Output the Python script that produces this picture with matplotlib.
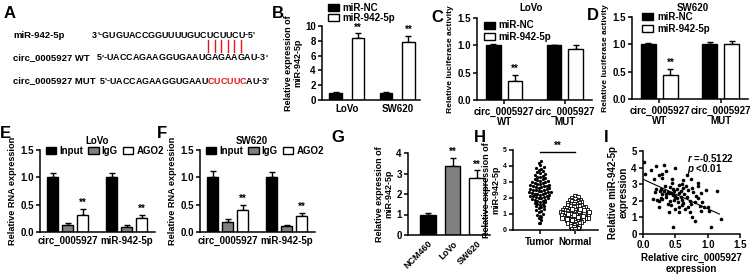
import matplotlib
matplotlib.use('Agg')
import matplotlib.pyplot as plt
import numpy as np
from matplotlib.patches import Patch

plt.rcParams['font.family'] = ['Liberation Sans', 'DejaVu Sans']
plt.rcParams['font.weight'] = 'bold'
plt.rcParams['axes.labelweight'] = 'bold'
plt.rcParams['mathtext.fontset'] = 'custom'
plt.rcParams['mathtext.it'] = 'Liberation Sans:italic:bold'
plt.rcParams['mathtext.rm'] = 'Liberation Sans:bold'

# ---------------- data ----------------
mir_label = "miR-942-5p"
wt_label = "circ_0005927 WT"
mut_label = "circ_0005927 MUT"
mir_seq = ["3'-GUGUACCGGUUUUGU", "CUCUUC", "U-5'"]
wt_seq = ["5'-UACCAGAAGGUGAAU", "GAGAAG", "AU-3'"]
mut_seq = ["5'-UACCAGAAGGUGAAU", "CUCUUC", "AU-3'"]

b_cats = ["LoVo", "SW620"]
b_nc = [1.0, 1.0]
b_nc_err = [0.08, 0.08]
b_mir = [8.4, 7.8]
b_mir_err = [0.6, 0.9]

luc_cats = ["circ_0005927\nWT", "circ_0005927\nMUT"]
c_nc = [1.0, 1.0]
c_nc_err = [0.02, 0.01]
c_mir = [0.35, 0.94]
c_mir_err = [0.1, 0.07]
d_nc = [1.0, 1.0]
d_nc_err = [0.03, 0.05]
d_mir = [0.44, 1.0]
d_mir_err = [0.1, 0.07]

rip_cats = ["circ_0005927", "miR-942-5p"]
e_input = [1.0, 1.0]
e_input_err = [0.08, 0.08]
e_igg = [0.12, 0.09]
e_igg_err = [0.04, 0.03]
e_ago2 = [0.32, 0.25]
e_ago2_err = [0.1, 0.07]
f_input = [1.0, 1.0]
f_input_err = [0.12, 0.1]
f_igg = [0.18, 0.11]
f_igg_err = [0.05, 0.02]
f_ago2 = [0.41, 0.3]
f_ago2_err = [0.08, 0.05]

g_cats = ["NCM460", "LoVo", "SW620"]
g_vals = [1.0, 3.35, 2.8]
g_err = [0.05, 0.4, 0.35]

h_tumor = [4.32, 4.18, 4.08, 3.95, 3.9, 3.82, 3.76, 3.7, 3.62, 3.58, 3.5, 3.46,
           3.4, 3.33, 3.3, 3.24, 3.2, 3.16, 3.12, 3.08, 3.05, 3.02, 3.0, 2.96,
           2.93, 2.9, 2.87, 2.84, 2.8, 2.78, 2.75, 2.72, 2.7, 2.66, 2.64, 2.61,
           2.58, 2.55, 2.52, 2.5, 2.47, 2.45, 2.42, 2.4, 2.37, 2.35, 2.33, 2.3,
           2.28, 2.26, 2.23, 2.2, 2.18, 2.15, 2.12, 2.1, 2.08, 2.05, 2.02, 2.0,
           1.97, 1.94, 1.9, 1.86, 1.83, 1.8, 1.76, 1.72, 1.68, 1.64, 1.6, 1.56,
           1.52, 1.48, 1.42, 1.36, 1.3, 1.25, 1.18, 1.1, 1.02, 0.95, 0.88, 0.82,
           0.74, 0.62, 0.46, 0.42]
h_normal = [2.1, 2.04, 1.98, 1.95, 1.9, 1.86, 1.83, 1.8, 1.77, 1.74, 1.7, 1.68,
            1.65, 1.62, 1.6, 1.57, 1.54, 1.52, 1.5, 1.47, 1.45, 1.43, 1.4, 1.38,
            1.35, 1.33, 1.3, 1.28, 1.26, 1.24, 1.22, 1.2, 1.18, 1.16, 1.14, 1.12,
            1.1, 1.08, 1.06, 1.04, 1.02, 1.0, 0.99, 0.97, 0.95, 0.93, 0.91, 0.9,
            0.88, 0.86, 0.84, 0.82, 0.8, 0.78, 0.76, 0.74, 0.72, 0.7, 0.68, 0.66,
            0.64, 0.62, 0.6, 0.58, 0.56, 0.54, 0.52, 0.5, 0.47, 0.44, 0.41, 0.38,
            0.35, 0.32, 0.28, 0.24, 0.2, 0.16, 0.12, 0.08, 0.04, 1.01, 0.96, 1.05,
            0.89, 1.11, 0.83, 1.17, 0.77, 1.23, 0.71, 1.29, 0.65, 1.34]
h_cats = ["Tumor", "Normal"]

i_circ = [0.02, 0.03, 0.12, 0.2, 0.33, 0.25, 0.17, 0.3, 0.36, 0.5, 0.45, 0.62,
          0.68, 0.74, 0.85, 0.97, 1.15, 0.28, 0.3, 0.22, 0.25, 0.35, 0.38, 0.4,
          0.42, 0.44, 0.46, 0.48, 0.5, 0.52, 0.54, 0.56, 0.58, 0.6, 0.62, 0.64,
          0.66, 0.68, 0.7, 0.72, 0.75, 0.78, 0.8, 0.82, 0.85, 0.88, 0.9, 0.92,
          0.95, 1.0, 1.02, 1.05, 1.2, 0.8, 0.75, 0.72, 0.65, 0.6, 0.55, 0.5,
          0.47, 0.42, 0.4, 0.38, 0.36, 0.34, 0.32, 0.3, 0.28, 0.26, 0.24, 0.2,
          0.18, 0.15, 0.52, 0.55, 0.6, 0.58, 0.48, 0.44, 0.46, 0.5, 0.56, 0.62,
          0.7, 0.74, 0.85, 0.9, 0.3, 0.45]
i_mir = [4.35, 3.62, 3.85, 4.12, 4.15, 3.55, 3.3, 3.4, 3.8, 3.95, 3.05, 3.25,
         3.55, 3.3, 3.1, 2.65, 2.6, 2.7, 2.1, 2.05, 1.6, 2.2, 2.55, 2.45,
         2.0, 1.75, 2.35, 2.6, 2.3, 2.15, 1.95, 2.5, 2.2, 2.05, 1.85, 2.4,
         2.9, 2.25, 1.6, 2.0, 2.8, 2.55, 1.9, 2.3, 2.15, 1.7, 2.45, 1.95,
         1.65, 1.65, 1.4, 0.45, 0.88, 0.8, 1.0, 1.3, 1.5, 1.75, 1.3, 1.5,
         0.4, 2.85, 1.35, 1.8, 2.4, 2.9, 2.6, 2.4, 2.15, 2.6, 2.0, 2.7,
         2.55, 2.1, 2.7, 2.95, 3.0, 2.6, 2.05, 2.5, 2.7, 2.25, 1.6, 2.8,
         2.65, 1.8, 2.9, 1.4, 3.6, 3.3]
i_fit_intercept = 3.3
i_fit_slope = -1.78
i_fit_xmax = 1.18
i_r_text = "$r$ =-0.5122"
i_p_text = "$p$ <0.01"

# ---------------- layout helpers ----------------
W, H = 753, 274
fig = plt.figure(figsize=(W / 100, H / 100), dpi=100)
renderer = fig.canvas.get_renderer()


def add_ax(x0, yt, x1, yb):
    return fig.add_axes([x0 / W, 1 - yb / H, (x1 - x0) / W, (yb - yt) / H])


def ftext(x, y, s, **kw):
    return fig.text(x / W, 1 - y / H, s, **kw)


def style(ax, fs=7):
    for s in ['top', 'right']:
        ax.spines[s].set_visible(False)
    for s in ['left', 'bottom']:
        ax.spines[s].set_linewidth(1.1)
    ax.tick_params(width=1.1, length=3, labelsize=fs, pad=1.5)
    ax.patch.set_alpha(0)


def bars(ax, xs, vals, errs, color, width):
    ax.bar(xs, vals, width, color=color, edgecolor='k', linewidth=1, zorder=2)
    ax.errorbar(xs, vals, yerr=[np.zeros(len(vals)), errs], fmt='none',
                ecolor='k', elinewidth=1, capsize=2.5, capthick=1, zorder=1)


def stars(ax, x, top, dy, fs=7):
    ax.text(x, top + dy, '**', ha='center', va='bottom', fontsize=fs)


def plabel(x, y, s):
    ftext(x, y, s, fontsize=12, fontweight='bold', va='center', ha='left')


def seq_line(x, y, pieces, colors, fs):
    pos = []
    for s, c in zip(pieces, colors):
        for ch in s:
            t = ftext(x, y, ch, fontsize=fs, color=c, va='center', ha='left')
            w = t.get_window_extent(renderer).width
            pos.append((x, w))
            x += w
    return pos

# ---------------- A ----------------
plabel(4, 14, 'A')
ftext(13, 35, mir_label, fontsize=6.8, va='center')
ftext(13, 58, wt_label, fontsize=6.8, va='center')
ftext(13, 81, mut_label, fontsize=6.8, va='center')
seq_line(92, 35, mir_seq, ['k', 'k', 'k'], 6.4)
wpos = seq_line(97, 58, wt_seq, ['k', 'k', 'k'], 6.4)
seq_line(100, 81, mut_seq, ['k', '#e8131b', 'k'], 6.4)
n0 = len(wt_seq[0])
for k in range(len(wt_seq[1])):
    xx, ww = wpos[n0 + k]
    cx = xx + ww / 2
    fig.add_artist(plt.Line2D([cx / W, cx / W], [1 - 40 / H, 1 - 52 / H],
                              color='#e8131b', lw=1))

# ---------------- B ----------------
plabel(272, 14, 'B')
axB = add_ax(322, 26, 420, 100)
style(axB)
xb = np.arange(len(b_cats))
bars(axB, xb - 0.22, b_nc, b_nc_err, 'k', 0.25)
bars(axB, xb + 0.22, b_mir, b_mir_err, 'white', 0.25)
for i in range(len(xb)):
    stars(axB, xb[i] + 0.22, b_mir[i] + b_mir_err[i], 0.1)
axB.set_xlim(-0.49, 1.45)
axB.set_ylim(0, 10)
axB.set_yticks([0, 2, 4, 6, 8, 10])
axB.set_xticks(xb)
axB.set_xticklabels(b_cats)
axB.tick_params(axis='x', length=0, pad=3)
axB.set_ylabel('Relative expression of\nmiR-942-5p', fontsize=6.5, labelpad=2, linespacing=1.0)
axB.legend(handles=[Patch(facecolor='k', edgecolor='k', lw=1, label='miR-NC'),
                    Patch(facecolor='white', edgecolor='k', lw=1, label='miR-942-5p')],
           loc='upper left', bbox_to_anchor=(0.06, 1.31), frameon=False, fontsize=7,
           handlelength=1.1, handleheight=0.7, handletextpad=0.4, labelspacing=0.0,
           borderpad=0, borderaxespad=0)


# ---------------- C / D ----------------
def luc_panel(ax, nc, nce, mir, mire, title_x, title, leg_anchor):
    style(ax)
    xs = np.arange(len(luc_cats))
    bars(ax, xs - 0.18, nc, nce, 'k', 0.24)
    bars(ax, xs + 0.18, mir, mire, 'white', 0.24)
    stars(ax, xs[0] + 0.18, mir[0] + mire[0], 0.03)
    ax.set_xlim(-0.45, 1.45)
    ax.set_ylim(0, 1.5)
    ax.set_yticks([0, 0.5, 1.0, 1.5])
    ax.set_yticklabels(['0.0', '0.5', '1.0', '1.5'])
    ax.set_xticks(xs)
    ax.set_xticklabels(luc_cats, linespacing=1.05)
    ax.tick_params(axis='x', pad=2)
    ax.set_ylabel('Relative luciferase activity', fontsize=6.1, labelpad=2)
    ax.legend(handles=[Patch(facecolor='k', edgecolor='k', lw=1, label='miR-NC'),
                       Patch(facecolor='white', edgecolor='k', lw=1, label='miR-942-5p')],
              loc='upper left', bbox_to_anchor=leg_anchor, frameon=False, fontsize=7,
              handlelength=1.1, handleheight=0.75, handletextpad=0.4, labelspacing=0.15,
              borderpad=0, borderaxespad=0)
    ftext(title_x, 8, title, fontsize=7, ha='center', va='center')


plabel(431, 17, 'C')
axC = add_ax(477, 18, 592, 100)
luc_panel(axC, c_nc, c_nc_err, c_mir, c_mir_err, 531, 'LoVo', (0.06, 0.97))
plabel(587, 15, 'D')
axD = add_ax(632, 17, 748, 99)
luc_panel(axD, d_nc, d_nc_err, d_mir, d_mir_err, 693, 'SW620', (0.09, 1.06))


# ---------------- E / F ----------------
def rip_panel(ax, inp, inpe, igg, igge, ago, agoe, title_x, title):
    style(ax)
    xs = np.arange(len(rip_cats))
    bars(ax, xs - 0.254, inp, inpe, 'k', 0.195)
    bars(ax, xs, igg, igge, '#808080', 0.195)
    bars(ax, xs + 0.254, ago, agoe, 'white', 0.195)
    for i in range(len(xs)):
        stars(ax, xs[i] + 0.254, ago[i] + agoe[i], 0.02)
    ax.set_xlim(-0.466, 1.48)
    ax.set_ylim(0, 1.5)
    ax.set_yticks([0, 0.5, 1.0, 1.5])
    ax.set_yticklabels(['0.0', '0.5', '1.0', '1.5'])
    ax.set_xticks(xs)
    ax.set_xticklabels(rip_cats)
    ax.tick_params(axis='x', length=0, pad=3)
    ax.set_ylabel('Relative RNA expression', fontsize=6.6, labelpad=2)
    ax.legend(handles=[Patch(facecolor='k', edgecolor='k', lw=1, label='Input'),
                       Patch(facecolor='#808080', edgecolor='k', lw=1, label='IgG'),
                       Patch(facecolor='white', edgecolor='k', lw=1, label='AGO2')],
              loc='upper left', bbox_to_anchor=(0.05, 1.05), frameon=False, fontsize=7,
              ncol=3, handlelength=1.1, handleheight=0.75, handletextpad=0.3,
              columnspacing=0.5, borderpad=0, borderaxespad=0)
    ftext(title_x, 141, title, fontsize=7, ha='center', va='center')


plabel(0, 133, 'E')
axE = add_ax(40, 150, 155, 232)
rip_panel(axE, e_input, e_input_err, e_igg, e_igg_err, e_ago2, e_ago2_err, 97, 'LoVo')
plabel(157, 133, 'F')
axF = add_ax(200, 150, 315, 232)
rip_panel(axF, f_input, f_input_err, f_igg, f_igg_err, f_ago2, f_ago2_err, 252, 'SW620')

# ---------------- G ----------------
plabel(331, 137, 'G')
axG = add_ax(408, 153, 490, 235)
style(axG)
xg = np.arange(len(g_cats))
for i, c in enumerate(['k', '#808080', 'white']):
    bars(axG, [xg[i]], [g_vals[i]], [g_err[i]], c, 0.62)
for i in [1, 2]:
    stars(axG, xg[i], g_vals[i] + g_err[i], 0.05)
axG.set_xlim(-0.82, 2.53)
axG.set_ylim(0, 4)
axG.set_yticks([0, 1, 2, 3, 4])
axG.set_xticks(xg)
axG.set_xticklabels(g_cats, rotation=45, ha='right', rotation_mode='anchor', fontsize=6.5)
axG.tick_params(axis='x', length=0, pad=3)
axG.set_ylabel('Relative expression of\nmiR-942-5p', fontsize=6.5, labelpad=2, linespacing=1.0)


# ---------------- H ----------------
def swarm(vals, binh, step):
    vals = np.asarray(vals, dtype=float)
    offs = np.zeros(len(vals))
    bins = np.floor(vals / binh).astype(int)
    for b in np.unique(bins):
        idx = np.where(bins == b)[0]
        idx = idx[np.argsort(vals[idx])]
        n = len(idx)
        o = (np.arange(n) - (n - 1) / 2) * step
        order = np.argsort(np.abs(o) + np.arange(n) * 1e-6)
        offs[idx] = o[order]
    return offs


plabel(474, 137, 'H')
axH = add_ax(513, 150, 598, 230)
style(axH, fs=5)
upx = 1 / 35.0
axH.plot(0 + swarm(h_tumor, 0.22, 2.7 * upx), h_tumor, 'o', color='k', ms=2.3, mew=0)
axH.plot(1 + swarm(h_normal, 0.16, 2.6 * upx), h_normal, 's', mfc='white', mec='k',
         ms=2.8, mew=0.6)
axH.plot([0, 1], [4.9, 4.9], color='k', lw=1)
axH.text(0.5, 4.95, '**', ha='center', va='bottom', fontsize=7)
axH.set_xlim(-0.77, 1.66)
axH.set_ylim(0, 5)
axH.set_yticks([0, 1, 2, 3, 4, 5])
axH.set_xticks([0, 1])
axH.set_xticklabels(h_cats, fontsize=7)
axH.tick_params(axis='x', length=3, pad=2)
axH.set_ylabel('Relative expression of\nmiR-942-5p', fontsize=6.5, labelpad=2, linespacing=1.0)

# ---------------- I ----------------
plabel(604, 137, 'I')
axI = add_ax(643, 151, 740, 234)
style(axI)
axI.plot(i_circ, i_mir, 'o', color='k', ms=2.6, mew=0)
fx = np.array([0, i_fit_xmax])
axI.plot(fx, i_fit_intercept + i_fit_slope * fx, color='k', lw=0.8)
axI.set_xlim(0, 1.5)
axI.set_ylim(0, 5)
axI.set_xticks([0, 0.5, 1.0, 1.5])
axI.set_xticklabels(['0.0', '0.5', '1.0', '1.5'])
axI.set_yticks([0, 1, 2, 3, 4, 5])
axI.set_xlabel('Relative circ_0005927\nexpression', fontsize=7, labelpad=2, linespacing=1.1)
axI.set_ylabel('Relative miR-942-5p\nexpression', fontsize=7, labelpad=2, linespacing=1.0)
axI.text(0.68, 4.6, i_r_text, fontsize=7, va='center')
axI.text(0.68, 3.9, i_p_text, fontsize=7, va='center')

fig.savefig('out.png', dpi=100)
